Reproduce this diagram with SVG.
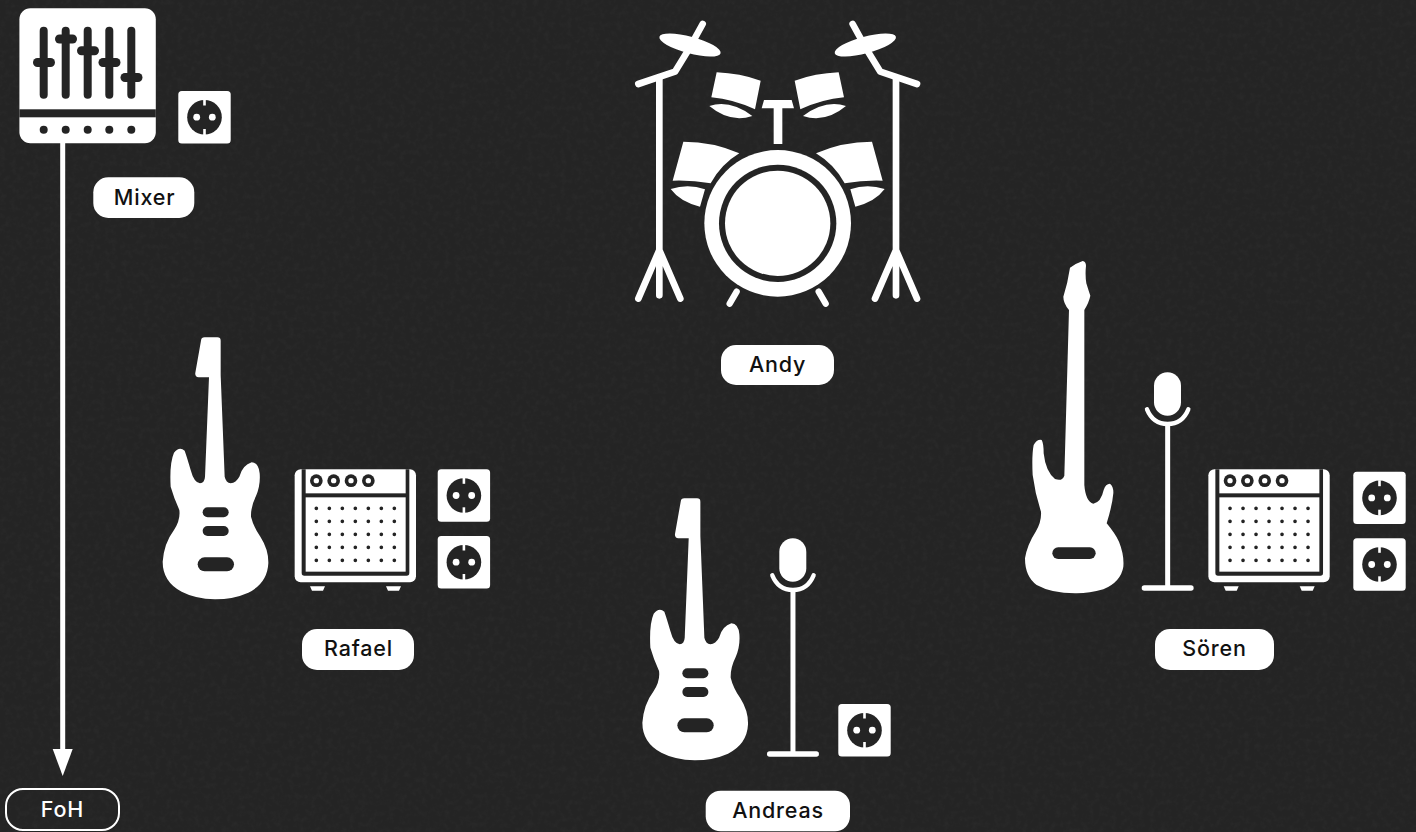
<svg xmlns="http://www.w3.org/2000/svg" xmlns:xlink="http://www.w3.org/1999/xlink" width="1416" height="832" viewBox="0 0 1416 832">
<style>
.w{fill:#fff}.d{fill:#242424}
.s{fill:none;stroke:#fff;stroke-linecap:round;stroke-linejoin:round}
.t{font-family:Inter,"Liberation Sans",sans-serif;font-size:21.5px;font-weight:500;letter-spacing:.8px;text-anchor:middle;fill:#111}
</style>
<defs>
<filter id="grain" x="0" y="0" width="100%" height="100%"><feTurbulence type="fractalNoise" baseFrequency="0.18" numOctaves="5" seed="11"/><feColorMatrix values="0 0 0 0 1 0 0 0 0 1 0 0 0 0 1 0 0 0 0.6 -0.24"/></filter>
<g id="socket"><rect width="52.4" height="52.4" rx="3.5" class="w"/><circle cx="26.2" cy="26.2" r="17.3" class="d"/><rect x="24.9" y="8.5" width="2.6" height="6" class="w"/><rect x="24.9" y="38" width="2.6" height="6" class="w"/><circle cx="18.4" cy="26.2" r="3.4" class="w"/><circle cx="34" cy="26.2" r="3.4" class="w"/></g>
<g id="guitar"><path class="w" d="M153 32Q154 22 164 22L202 22Q212 22 212 32L212 135L224 440Q228 458 242 460Q258 458 268 440Q278 405 305 397Q326 398 329 430Q332 465 318 498Q302 530 303 560Q310 590 332 622Q356 660 355 700Q352 760 295 788Q250 808 195 808Q135 806 95 785Q38 755 38 695Q42 640 72 600Q92 570 88 540Q72 505 62 470Q58 400 72 368Q88 348 104 362Q112 385 122 420Q132 458 150 460Q164 458 165 440L177 142L146 142Q134 140 136 128Z"/><rect x="158" y="532" width="78" height="30" rx="15" class="d"/><rect x="158" y="588" width="78" height="30" rx="15" class="d"/><rect x="143" y="682" width="109" height="42" rx="21" class="d"/></g>
<g id="bass"><path class="w" d="M165 38Q185 24 203 18Q213 20 213 32Q210 60 214 85Q220 105 226 122Q222 142 208 165L208 690Q212 740 235 746Q258 742 266 705Q272 686 285 686Q296 695 295 715Q292 750 275 805Q300 835 312 860Q328 900 325 935Q318 980 265 1003Q220 1016 180 1015Q110 1015 65 990Q30 965 30 910Q36 870 62 830Q80 800 78 770Q60 715 53 660Q50 600 56 570Q66 552 80 555Q86 565 86 595Q92 650 120 672Q142 680 148 662L162 165Q145 145 145 125Q158 85 165 38Z"/><rect x="112" y="877" width="130" height="35" rx="17.5" class="d"/></g>
<g id="mic"><rect x="417" y="352" width="81" height="130" rx="40.5" class="w"/><path class="s" stroke-width="13" d="M396 463C412 502 442 507 458 507C474 507 504 502 520 463"/><path d="M458 507V998" stroke="#fff" stroke-width="15"/><rect x="380" y="991" width="156" height="16" rx="8" class="w"/></g>
<g id="amp"><rect x="434" y="418" width="364" height="339" rx="18" class="w"/><path class="d" d="M455 418H778V729Q778 737 770 737H463Q455 737 455 729Z"/><rect x="467" y="418" width="300" height="72" class="w"/><rect x="467" y="502" width="300" height="223" class="w"/>
<g class="d"><circle cx="499" cy="452" r="19"/><circle cx="551" cy="452" r="19"/><circle cx="603" cy="452" r="19"/><circle cx="655" cy="452" r="19"/></g>
<g class="w"><circle cx="499" cy="452" r="8"/><circle cx="551" cy="452" r="8"/><circle cx="603" cy="452" r="8"/><circle cx="655" cy="452" r="8"/></g>
<g class="d"><path id="row" d="M493.5 535a5.5 5.5 0 1 0 11 0a5.5 5.5 0 1 0-11 0M532.5 535a5.5 5.5 0 1 0 11 0a5.5 5.5 0 1 0-11 0M571.5 535a5.5 5.5 0 1 0 11 0a5.5 5.5 0 1 0-11 0M610.5 535a5.5 5.5 0 1 0 11 0a5.5 5.5 0 1 0-11 0M649.5 535a5.5 5.5 0 1 0 11 0a5.5 5.5 0 1 0-11 0M688.5 535a5.5 5.5 0 1 0 11 0a5.5 5.5 0 1 0-11 0M727.5 535a5.5 5.5 0 1 0 11 0a5.5 5.5 0 1 0-11 0"/><use xlink:href="#row" href="#row" y="39"/><use xlink:href="#row" href="#row" y="78"/><use xlink:href="#row" href="#row" y="117"/><use xlink:href="#row" href="#row" y="156"/></g>
<path class="w" d="M480 769H525L519 782H486ZM708 769H753L747 782H714Z"/></g>
<g id="drumhalf"><path class="s" stroke-width="20" d="M55 222L165 185L205 120L248 42"/><path class="s" stroke-width="20" d="M118 205V720M118 720L55 866M118 720V856M118 720L181 866" /><ellipse cx="210" cy="105" rx="95" ry="25" transform="rotate(15 210 105)" class="w"/>
<path class="w" d="M290 187Q360 190 422 212L405 298Q340 268 274 262ZM268 288Q330 268 397 318Q330 340 268 288ZM190 395Q280 395 358 430A235 235 0 0 0 272 520Q215 510 158 512ZM152 537Q205 520 255 538L240 590Q180 575 152 537Z"/><path class="s" stroke-width="19" d="M350 845L329 881"/></g>
</defs>
<rect width="1416" height="832" fill="#242424"/>
<rect width="1416" height="832" filter="url(#grain)" opacity="0.08"/>
<g id="connectors"><path d="M62.7 143V752" stroke="#fff" stroke-width="5" fill="none"/><path class="w" d="M52.7 749H72.7L62.7 776Z"/></g>
<g id="mixer"><rect x="19.4" y="8.3" width="136.4" height="135" rx="11" class="w"/><rect x="19.4" y="109.3" width="136.4" height="8" class="d"/>
<g class="d"><rect x="39.7" y="26.7" width="8" height="72" rx="4"/><rect x="61.7" y="26.7" width="8" height="72" rx="4"/><rect x="83.7" y="26.7" width="8" height="72" rx="4"/><rect x="105.3" y="26.7" width="8" height="72" rx="4"/><rect x="127.3" y="26.7" width="8" height="72" rx="4"/><rect x="33" y="58" width="22" height="9" rx="4.5"/><rect x="55" y="34.5" width="22" height="9" rx="4.5"/><rect x="77" y="46.2" width="22" height="9" rx="4.5"/><rect x="98.5" y="58" width="22" height="9" rx="4.5"/><rect x="120.5" y="73" width="22" height="9" rx="4.5"/><circle cx="43.7" cy="129.7" r="4"/><circle cx="65.7" cy="129.7" r="4"/><circle cx="87.7" cy="129.7" r="4"/><circle cx="109.3" cy="129.7" r="4"/><circle cx="131.3" cy="129.7" r="4"/></g>
<use xlink:href="#socket" href="#socket" x="178.3" y="91"/><rect x="93.3" y="177.3" width="101" height="40.7" rx="15" class="w"/><text x="144.5" y="204.5" class="t">Mixer</text></g>
<g id="foh"><rect x="6" y="789" width="113" height="41" rx="17" fill="none" stroke="#fff" stroke-width="2"/><text x="62.5" y="816.5" class="t" style="fill:#fff">FoH</text></g>
<g id="andy"><g transform="translate(620 10) scale(.33333)"><use xlink:href="#drumhalf" href="#drumhalf"/><use xlink:href="#drumhalf" href="#drumhalf" transform="matrix(-1 0 0 1 946 0)"/><circle cx="473" cy="640" r="220" class="w"/><circle cx="473" cy="640" r="176" class="d"/><circle cx="473" cy="640" r="158" class="w"/><path class="w" d="M432 270H515L522 295H487V402H461V295H425Z"/></g><rect x="721" y="345" width="113" height="40" rx="15" class="w"/><text x="777.5" y="371.5" class="t">Andy</text></g>
<g id="rafael"><use xlink:href="#guitar" href="#guitar" transform="translate(150 330) scale(.33333)"/><use xlink:href="#amp" href="#amp" transform="translate(150 330) scale(.33333)"/><use xlink:href="#socket" href="#socket" x="437.7" y="469.3"/><use xlink:href="#socket" href="#socket" x="437.7" y="536"/><rect x="302" y="629" width="112" height="41" rx="15" class="w"/><text x="358.5" y="656" class="t">Rafael</text></g>
<g id="andreas"><use xlink:href="#guitar" href="#guitar" transform="translate(629.7 491) scale(.33333)"/><use xlink:href="#mic" href="#mic" transform="translate(640.3 421) scale(.33333)"/><use xlink:href="#socket" href="#socket" x="838.3" y="704"/><rect x="705.7" y="790.7" width="144.3" height="40.6" rx="15" class="w"/><text x="778" y="818" class="t">Andreas</text></g>
<g id="soren"><use xlink:href="#bass" href="#bass" transform="translate(1015 255) scale(.33333)"/><use xlink:href="#mic" href="#mic" transform="translate(1015 255) scale(.33333)"/><use xlink:href="#amp" href="#amp" transform="translate(1063.7 330) scale(.33333)"/><use xlink:href="#socket" href="#socket" x="1353.3" y="471.7"/><use xlink:href="#socket" href="#socket" x="1353.3" y="538.3"/><rect x="1155" y="629" width="119" height="41" rx="15" class="w"/><text x="1214.5" y="656" class="t">Sören</text></g>
</svg>
